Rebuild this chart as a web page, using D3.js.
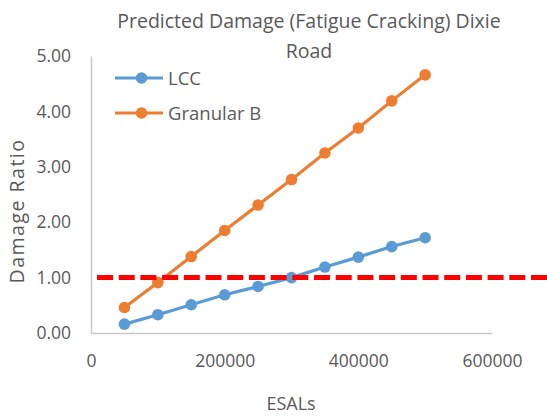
<!DOCTYPE html>
<html>
<head>
<meta charset="utf-8">
<script src="https://cdn.jsdelivr.net/npm/d3@7"></script>
<style>
  html, body { margin: 0; padding: 0; background: #fff; }
  svg { display: block; font-family: "Open Sans", sans-serif; }
</style>
</head>
<body>
<svg id="chart" width="547" height="417"></svg>
<script>
// ESAL counts and predicted damage ratios for each base option
const esals = [50000, 100000, 150000, 200000, 250000, 300000, 350000, 400000, 450000, 500000];
const lcc = [0.16, 0.33, 0.51, 0.69, 0.84, 1.00, 1.19, 1.37, 1.56, 1.72];
const granularB = [0.46, 0.91, 1.38, 1.85, 2.31, 2.77, 3.25, 3.70, 4.19, 4.66];
// failure threshold (damage ratio = 1)
const thresholdX = [9000, 690000];
const thresholdY = [1.0, 1.0];

const xTicks = [0, 200000, 400000, 600000];
const yTicks = [0, 1, 2, 3, 4, 5];
const titleLines = ["Predicted Damage (Fatigue Cracking) Dixie", "Road"];
const seriesNames = ["LCC", "Granular B"];
const colors = ["#5B9BD5", "#ED7D31"];

const svg = d3.select("#chart");
const textColor = "#595959";
const axisColor = "#c9c9c9";

const x = d3.scaleLinear().domain([0, 600000]).range([91, 492]);
const y = d3.scaleLinear().domain([0, 5]).range([333, 56]);

// title
svg.append("g").selectAll("text").data(titleLines).join("text")
  .attr("x", 309).attr("y", (d, i) => 28 + i * 30)
  .attr("text-anchor", "middle")
  .attr("font-size", 19.5).attr("fill", textColor)
  .text(d => d);

// axes
const yAxis = svg.append("g").attr("transform", `translate(${x(0)},0)`)
  .call(d3.axisLeft(y).tickValues(yTicks).tickSize(0).tickPadding(20)
    .tickFormat(d3.format(".2f")));
const xAxis = svg.append("g").attr("transform", `translate(0,${y(0)})`)
  .call(d3.axisBottom(x).tickValues(xTicks).tickSize(0).tickPadding(22)
    .tickFormat(d3.format("d")));
[yAxis, xAxis].forEach(g => {
  g.select(".domain").attr("stroke", axisColor).attr("stroke-width", 1.5);
  g.selectAll("text").attr("font-size", 17.5).attr("fill", textColor)
    .attr("font-family", "'Open Sans', sans-serif");
});

// axis titles
svg.append("text")
  .attr("transform", "translate(24,211) rotate(-90)")
  .attr("text-anchor", "middle").attr("font-size", 19.5).attr("fill", textColor)
  .attr("letter-spacing", 1.5)
  .text("Damage Ratio");
svg.append("text")
  .attr("x", 291).attr("y", 410)
  .attr("text-anchor", "middle").attr("font-size", 18).attr("fill", textColor)
  .text("ESALs");

// data series
const line = d3.line().x(d => x(d[0])).y(d => y(d[1]));
[lcc, granularB].forEach((vals, i) => {
  const pts = esals.map((e, j) => [e, vals[j]]);
  const g = svg.append("g");
  g.append("path").datum(pts).attr("d", line)
    .attr("fill", "none").attr("stroke", colors[i]).attr("stroke-width", 3.2)
    .attr("stroke-linejoin", "round");
  g.selectAll("circle").data(pts).join("circle")
    .attr("cx", d => x(d[0])).attr("cy", d => y(d[1])).attr("r", 5.8)
    .attr("fill", colors[i]);
});

// threshold line
svg.append("path")
  .datum(thresholdX.map((v, i) => [v, thresholdY[i]]))
  .attr("d", line)
  .attr("fill", "none").attr("stroke", "#FF0000").attr("stroke-width", 5)
  .attr("stroke-dasharray", "16,5.7");

// legend
const legend = svg.append("g");
seriesNames.forEach((name, i) => {
  const ly = 78 + i * 35;
  legend.append("line").attr("x1", 115).attr("x2", 163).attr("y1", ly).attr("y2", ly)
    .attr("stroke", colors[i]).attr("stroke-width", 3.2);
  legend.append("circle").attr("cx", 141.5).attr("cy", ly).attr("r", 5.8).attr("fill", colors[i]);
  legend.append("text").attr("x", 168).attr("y", ly + 6.5)
    .attr("font-size", 18.5).attr("fill", textColor).text(name);
});
</script>
</body>
</html>
